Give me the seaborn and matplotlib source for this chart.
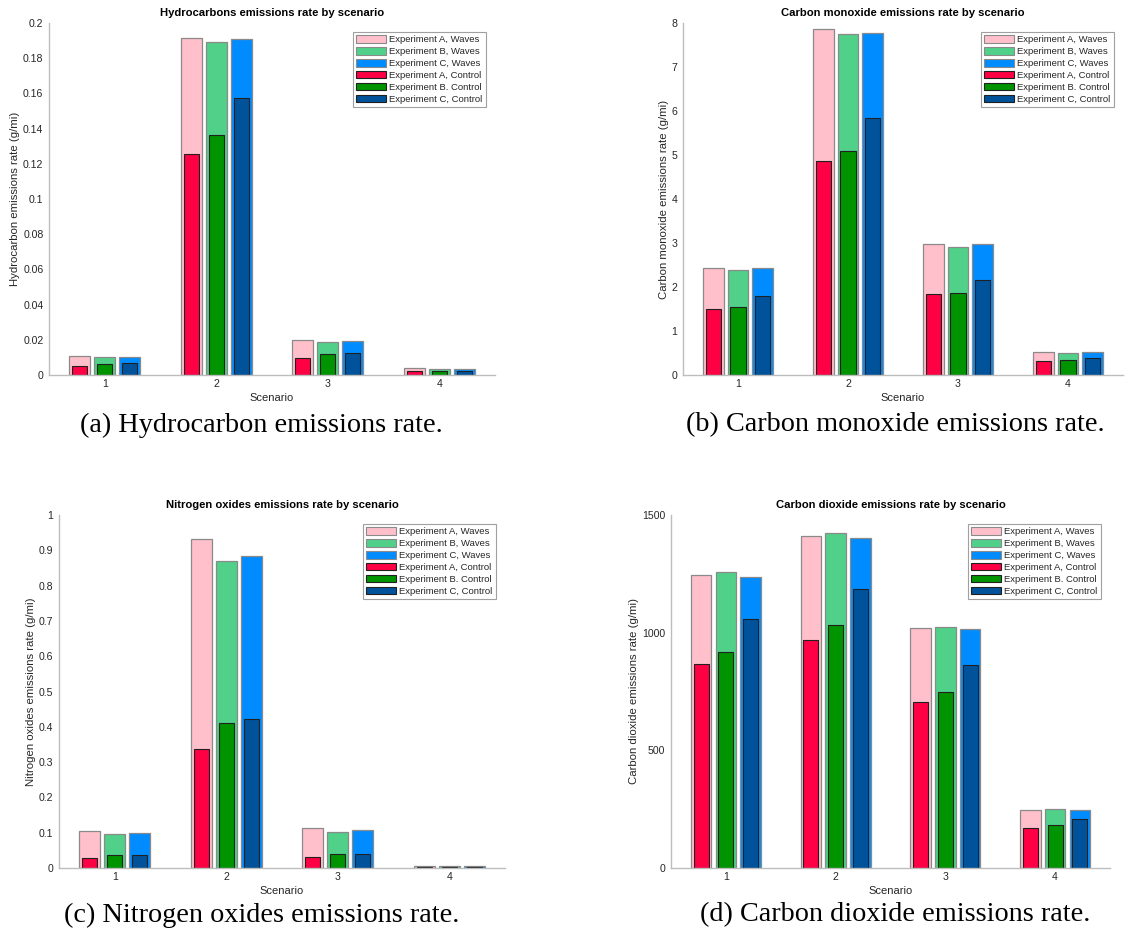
import numpy as np
import pandas as pd
import matplotlib
matplotlib.use("Agg")
import matplotlib.pyplot as plt
import seaborn as sns
from matplotlib.patches import Patch

sns.set_style("white")
plt.rcParams['font.family'] = ['Liberation Sans', 'DejaVu Sans']

scenarios = ["1", "2", "3", "4"]
experiments = ["A", "B", "C"]

# Hydrocarbons (g/mi)
hc_waves = {"A": [0.0106, 0.1915, 0.0197, 0.0038],
            "B": [0.0100, 0.1892, 0.0186, 0.0032],
            "C": [0.0104, 0.1909, 0.0191, 0.0036]}
hc_control = {"A": [0.0051, 0.1258, 0.0098, 0.0021],
              "B": [0.0063, 0.1364, 0.0117, 0.0025],
              "C": [0.0066, 0.1574, 0.0125, 0.0023]}
# Carbon monoxide (g/mi)
co_waves = {"A": [2.44, 7.86, 2.98, 0.52],
            "B": [2.38, 7.75, 2.92, 0.49],
            "C": [2.43, 7.77, 2.97, 0.52]}
co_control = {"A": [1.49, 4.86, 1.83, 0.32],
              "B": [1.54, 5.08, 1.87, 0.33],
              "C": [1.79, 5.85, 2.17, 0.38]}
# Nitrogen oxides (g/mi)
nox_waves = {"A": [0.106, 0.931, 0.113, 0.0066],
             "B": [0.095, 0.870, 0.101, 0.0066],
             "C": [0.100, 0.883, 0.109, 0.0060]}
nox_control = {"A": [0.028, 0.336, 0.031, 0.003],
               "B": [0.038, 0.410, 0.041, 0.004],
               "C": [0.038, 0.423, 0.041, 0.003]}
# Carbon dioxide (g/mi)
co2_waves = {"A": [1243, 1411, 1018, 248],
             "B": [1256, 1422, 1026, 250],
             "C": [1238, 1404, 1014, 247]}
co2_control = {"A": [865, 970, 705, 172],
               "B": [916, 1032, 749, 181],
               "C": [1056, 1185, 862, 210]}

legend_labels = ["Experiment A, Waves", "Experiment B, Waves", "Experiment C, Waves",
                 "Experiment A, Control", "Experiment B. Control", "Experiment C, Control"]

waves_colors = ["#FFC0CB", "#50D088", "#008CFF"]
control_colors = ["#FF0044", "#009400", "#00529B"]

titles = ["Hydrocarbons emissions rate by scenario",
          "Carbon monoxide emissions rate by scenario",
          "Nitrogen oxides emissions rate by scenario",
          "Carbon dioxide emissions rate by scenario"]
ylabels = ["Hydrocarbon emissions rate (g/mi)",
           "Carbon monoxide emissions rate (g/mi)",
           "Nitrogen oxides emissions rate (g/mi)",
           "Carbon dioxide emissions rate (g/mi)"]
captions = ["(a) Hydrocarbon emissions rate.",
            "(b) Carbon monoxide emissions rate.",
            "(c) Nitrogen oxides emissions rate.",
            "(d) Carbon dioxide emissions rate."]
yticks = [np.round(np.arange(0, 0.2001, 0.02), 2),
          np.arange(0, 9, 1),
          np.round(np.arange(0, 1.001, 0.1), 1),
          np.array([0, 500, 1000, 1500])]
ylims = [0.2, 8, 1, 1500]

datasets = [(hc_waves, hc_control), (co_waves, co_control),
            (nox_waves, nox_control), (co2_waves, co2_control)]

W, H = 1129, 932
fig = plt.figure(figsize=(W / 100, H / 100), dpi=100)

# axes rectangles in pixels: left, right, top, bottom
rects = [(49, 495, 23, 375), (683, 1123, 23, 375),
         (59, 505, 515, 868), (671, 1110, 515, 868)]
caption_pos = [(261, 425), (895, 425), (262, 915), (895, 915)]


def fmt(v):
    s = ("%.2f" % v).rstrip("0").rstrip(".")
    return s


def long_df(d):
    rows = []
    for e in experiments:
        for s, v in zip(scenarios, d[e]):
            rows.append({"Scenario": s, "Experiment": e, "value": v})
    return pd.DataFrame(rows)


axis_grey = "#BDBDBD"
text_grey = "#262626"

for i, (waves, control) in enumerate(datasets):
    l, r, t, b = rects[i]
    ax = fig.add_axes([l / W, (H - b) / H, (r - l) / W, (b - t) / H])
    dfw = long_df(waves)
    dfc = long_df(control)
    sns.barplot(data=dfw, x="Scenario", y="value", hue="Experiment",
                order=scenarios, hue_order=experiments, palette=waves_colors,
                width=0.675, gap=0.17, edgecolor="#8A8A8A", linewidth=0.9,
                saturation=1, legend=False, ax=ax, errorbar=None)
    sns.barplot(data=dfc, x="Scenario", y="value", hue="Experiment",
                order=scenarios, hue_order=experiments, palette=control_colors,
                width=0.675, gap=0.39, edgecolor="#202020", linewidth=0.8,
                saturation=1, legend=False, ax=ax, errorbar=None)
    ax.set_xlim(-0.5, 3.5)
    ax.set_ylim(0, ylims[i])
    ax.set_yticks(yticks[i])
    if i in (1, 3):
        ax.set_yticklabels([str(int(v)) for v in yticks[i]])
    else:
        ax.set_yticklabels([fmt(v) for v in yticks[i]])
    ax.set_title(titles[i], fontsize=8.1, fontweight="bold", color="black", pad=5)
    ax.set_xlabel("Scenario", fontsize=8.0, color=text_grey, labelpad=3)
    ax.set_ylabel(ylabels[i], fontsize=8.2, color=text_grey, labelpad=2)
    for side in ["top", "right"]:
        ax.spines[side].set_visible(False)
    for side in ["left", "bottom"]:
        ax.spines[side].set_color(axis_grey)
        ax.spines[side].set_linewidth(1.0)
    ax.tick_params(axis="both", direction="in", length=3, width=0.7,
                   color=axis_grey, labelsize=7.6, labelcolor=text_grey, pad=3)
    ax.tick_params(axis="y", pad=4)

    handles = [Patch(facecolor=c, edgecolor="#8A8A8A", linewidth=0.8) for c in waves_colors] + \
              [Patch(facecolor=c, edgecolor="#202020", linewidth=0.8) for c in control_colors]
    leg = ax.legend(handles, legend_labels, loc="upper right", fontsize=6.8,
                    frameon=True, fancybox=False, framealpha=1,
                    edgecolor="#A0A0A0", borderaxespad=0.95,
                    handlelength=3.2, handleheight=0.85, handletextpad=0.35,
                    labelspacing=0.3, borderpad=0.35)
    leg.get_frame().set_linewidth(0.8)

    cx, cy = caption_pos[i]
    fig.text(cx / W, 1 - cy / H, captions[i], ha="center", va="center",
             fontsize=20.3, family=["Liberation Serif", "DejaVu Serif"], color="black")

fig.savefig("out.png", dpi=100, facecolor="white")
